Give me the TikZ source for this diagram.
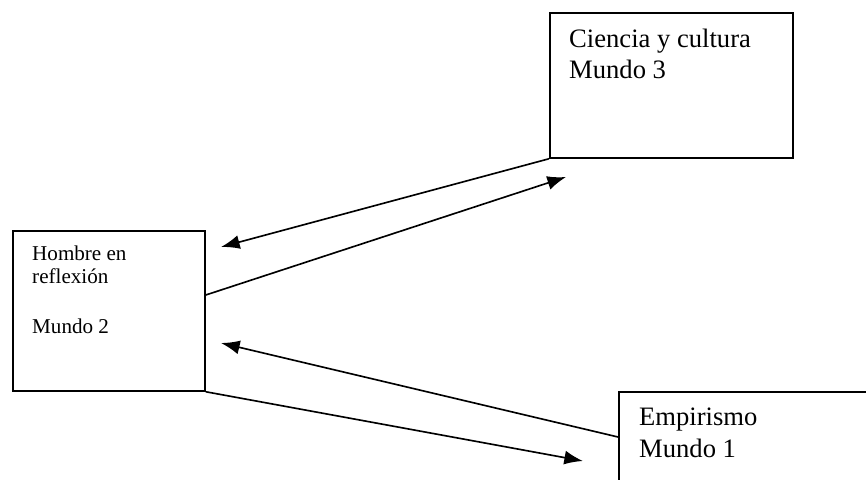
\documentclass[tikz,border=0pt]{standalone}
\usepackage{fontspec}
\setmainfont{Liberation Serif}
\usetikzlibrary{arrows.meta}
\usetikzlibrary{calc}

\tikzset{
  caja/.style={draw, line width=1.5pt, inner sep=0pt, anchor=north west},
  texto/.style={anchor=base west, inner sep=0pt, align=left, font=\fontsize{22.7}{27.3}\selectfont},
  textochico/.style={texto, font=\fontsize{18}{19.6}\selectfont},
  flecha/.style={line width=1.4pt, -{Latex[length=0.56cm,width=0.42cm]}}
}

\begin{document}
\begin{tikzpicture}[x=0.03cm,y=-0.03cm]
				\clip (0,0) rectangle (866,480);
				% Cajas
				\node [caja,minimum width=7.29cm,minimum height=4.35cm] (m3) at (549,12) {};
				\node [caja,minimum width=5.76cm,minimum height=4.8cm] (m2) at (12,230) {};
				\node [caja,minimum width=7.8cm,minimum height=3cm] (m1) at (618,391) {};
				\node [texto] (t3) at (569,79) {Ciencia y cultura\\Mundo 3};
				\node [textochico] (t2) at (32,333) {Hombre en\\reflexión\\[23pt]Mundo 2};
				\node [texto] (t1) at (639,457) {Empirismo\\Mundo 1};
				% Flechas
				\coordinate (p1) at (221,247);
				\coordinate (p2) at (566,177);
				\coordinate (p3) at (221,343);
				\coordinate (p4) at (583,461);
				\draw [flecha] (m3.south west) -- (p1);
				\draw [flecha] ([yshift=-1.95cm]m2.north east) -- (p2);
				\draw [flecha] ([yshift=-1.38cm]m1.north west) -- (p3);
				\draw [flecha] (m2.south east) -- (p4);
\end{tikzpicture}
\end{document}
